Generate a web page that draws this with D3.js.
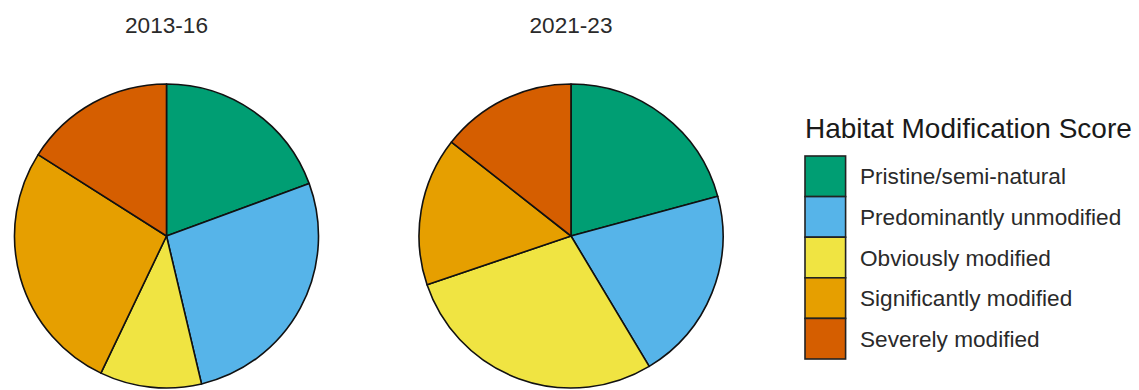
<!DOCTYPE html>
<html>
<head>
<meta charset="utf-8">
<script src="https://cdn.jsdelivr.net/npm/d3@7"></script>
<style>
html,body{margin:0;padding:0;background:#fff;}
svg{display:block;}
text{font-family:"Liberation Sans",Arial,Helvetica,sans-serif;}
</style>
</head>
<body>
<svg id="chart" width="1139" height="390"></svg>
<script>
const categories = ["Pristine/semi-natural","Predominantly unmodified","Obviously modified","Significantly modified","Severely modified"];
const colors = ["#009E73","#56B4E9","#F0E442","#E69F00","#D55E00"];
const periods = ["2013-16","2021-23"];
const values2013 = [19.4, 26.9, 10.8, 26.9, 16.0];
const values2021 = [20.8, 20.6, 28.4, 15.8, 14.4];
const legendTitle = "Habitat Modification Score";

const svg = d3.select("#chart");
const color = d3.scaleOrdinal().domain(categories).range(colors);
const pie = d3.pie().sort(null).value(d => d.v);
const R = 152;
const arc = d3.arc().innerRadius(0).outerRadius(R);

const panels = [
  {title: periods[0], values: values2013, cx: 166.5, cy: 236},
  {title: periods[1], values: values2021, cx: 571, cy: 236}
];

panels.forEach(p => {
  const data = categories.map((c, i) => ({c, v: p.values[i]}));
  const g = svg.append("g").attr("transform", `translate(${p.cx},${p.cy})`);
  g.selectAll("path").data(pie(data)).join("path")
    .attr("d", arc)
    .attr("fill", d => color(d.data.c))
    .attr("stroke", "#111")
    .attr("stroke-width", 1.6)
    .attr("stroke-linejoin", "round");
  svg.append("text")
    .attr("x", p.cx).attr("y", 33)
    .attr("text-anchor", "middle")
    .attr("font-size", 22.6)
    .attr("fill", "#2a2a2a")
    .text(p.title);
});

// Legend
const lx = 805, ly = 156, key = 40.6;
svg.append("text")
  .attr("x", lx).attr("y", 137.5)
  .attr("font-size", 28)
  .attr("fill", "#1a1a1a")
  .text(legendTitle);
const lg = svg.append("g");
categories.forEach((c, i) => {
  lg.append("rect")
    .attr("x", lx).attr("y", ly + i * key)
    .attr("width", key).attr("height", key)
    .attr("fill", color(c))
    .attr("stroke", "#222")
    .attr("stroke-width", 1.6);
  lg.append("text")
    .attr("x", 860).attr("y", ly + i * key + key / 2 + 8)
    .attr("font-size", 22.6)
    .attr("fill", "#2a2a2a")
    .text(c);
});
</script>
</body>
</html>
